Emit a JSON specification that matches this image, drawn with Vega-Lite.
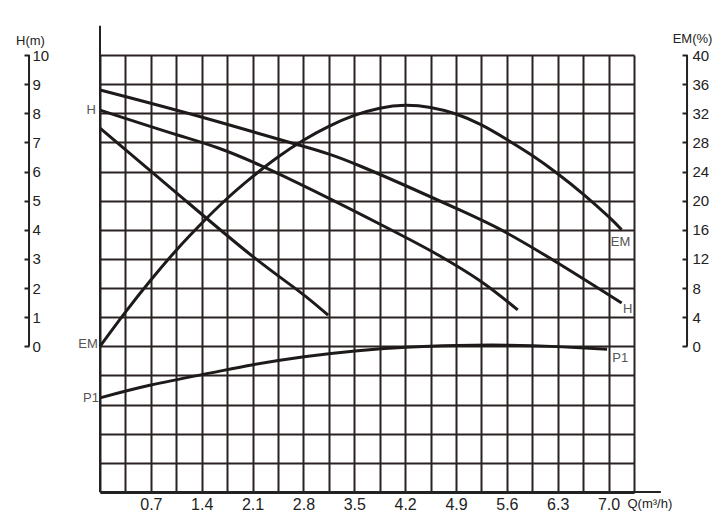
{
  "$schema": "https://vega.github.io/schema/vega-lite/v6.json",
  "width": 534,
  "height": 437,
  "autosize": {"type": "none"},
  "padding": {"left": 100, "top": 55, "right": 90, "bottom": 36},
  "background": "white",
  "config": {"view": {"stroke": null}, "font": "Liberation Sans"},
  "encoding": {
    "x": {
      "field": "q",
      "type": "quantitative",
      "scale": {"domain": [0, 7.35], "nice": false, "zero": false},
      "axis": {
        "values": [0, 0.35, 0.7, 1.05, 1.4, 1.75, 2.1, 2.45, 2.8, 3.15, 3.5, 3.85, 4.2, 4.55, 4.9, 5.25, 5.6, 5.95, 6.3, 6.65, 7.0, 7.35],
        "grid": true,
        "gridColor": "#2a2222",
        "gridWidth": 2,
        "gridOpacity": 1,
        "ticks": false,
        "domain": true,
        "domainColor": "#222222",
        "domainWidth": 3,
        "labelExpr": "indexof(['0.7','1.4','2.1','2.8','3.5','4.2','4.9','5.6','6.3','7.0'], format(datum.value,'.1f')) >= 0 ? format(datum.value,'.1f') : ''",
        "labelFont": "Liberation Sans",
        "labelFontSize": 16,
        "labelColor": "#222222",
        "labelPadding": 4,
        "labelFlush": false,
        "labelOverlap": false,
        "title": "Q(m³/h)",
        "titleFont": "Liberation Sans",
        "titleFontSize": 13,
        "titleFontWeight": "normal",
        "titleColor": "#222222",
        "titleX": 527,
        "titleY": 5,
        "titleAlign": "left",
        "titleBaseline": "top"
      }
    }
  },
  "layer": [
    {
      "data": {"values": [
        {"series": "H1", "q": 0, "h": 8.80},
        {"series": "H1", "q": 1.31, "h": 7.93},
        {"series": "H1", "q": 2.71, "h": 6.93},
        {"series": "H1", "q": 3.58, "h": 6.19},
        {"series": "H1", "q": 4.95, "h": 4.68},
        {"series": "H1", "q": 5.60, "h": 3.89},
        {"series": "H1", "q": 6.29, "h": 2.88},
        {"series": "H1", "q": 7.18, "h": 1.49},
        {"series": "H2", "q": 0, "h": 8.11},
        {"series": "H2", "q": 1.10, "h": 7.23},
        {"series": "H2", "q": 2.20, "h": 6.22},
        {"series": "H2", "q": 3.99, "h": 4.02},
        {"series": "H2", "q": 4.68, "h": 3.10},
        {"series": "H2", "q": 5.23, "h": 2.25},
        {"series": "H2", "q": 5.75, "h": 1.25},
        {"series": "H3", "q": 0, "h": 7.49},
        {"series": "H3", "q": 1.17, "h": 5.02},
        {"series": "H3", "q": 2.11, "h": 3.07},
        {"series": "H3", "q": 2.75, "h": 1.87},
        {"series": "H3", "q": 3.14, "h": 1.07}
      ]},
      "mark": {"type": "line", "color": "#1e1a1a", "strokeWidth": 3, "interpolate": "natural"},
      "encoding": {
        "y": {
          "field": "h", "type": "quantitative",
          "scale": {"domain": [-5, 10], "nice": false, "zero": false},
          "axis": {
            "orient": "left",
            "values": [-5, -4, -3, -2, -1, 0, 1, 2, 3, 4, 5, 6, 7, 8, 9, 10],
            "grid": true, "gridColor": "#2a2222", "gridWidth": 2, "gridOpacity": 1,
            "labels": false, "ticks": false, "domain": false, "title": null
          }
        },
        "detail": {"field": "series"}
      }
    },
    {
      "data": {"values": [
        {"q": 0, "h": -1.77},
        {"q": 0.70, "h": -1.33},
        {"q": 1.51, "h": -0.92},
        {"q": 2.11, "h": -0.63},
        {"q": 2.81, "h": -0.36},
        {"q": 3.51, "h": -0.16},
        {"q": 4.21, "h": -0.03},
        {"q": 4.91, "h": 0.03},
        {"q": 5.60, "h": 0.04},
        {"q": 6.30, "h": -0.01},
        {"q": 6.98, "h": -0.10}
      ]},
      "mark": {"type": "line", "color": "#1e1a1a", "strokeWidth": 3, "interpolate": "natural"},
      "encoding": {
        "y": {"field": "h", "type": "quantitative", "scale": {"domain": [-5, 10], "nice": false, "zero": false}, "axis": null}
      }
    },
    {
      "data": {"values": [
        {"q": 0, "q2": 0, "h": -5, "h2": 11.0},
        {"q": 7.35, "q2": 7.72, "h": -5, "h2": -5},
        {"q": -0.977, "q2": -0.977, "h": 0, "h2": 10},
        {"q": 8.08, "q2": 8.08, "h": 0, "h2": 10}
      ]},
      "mark": {"type": "rule", "color": "#222222", "strokeWidth": 2},
      "encoding": {
        "x2": {"field": "q2"},
        "y": {"field": "h", "type": "quantitative", "scale": {"domain": [-5, 10], "nice": false, "zero": false}, "axis": null},
        "y2": {"field": "h2"}
      }
    },
    {
      "data": {"values": [
        {"q": -0.055, "h": 8.11, "label": "H"},
        {"q": -0.03, "h": 0.08, "label": "EM"},
        {"q": -0.014, "h": -1.77, "label": "P1"}
      ]},
      "mark": {"type": "text", "align": "right", "baseline": "middle", "fontSize": 13, "color": "#555555", "font": "Liberation Sans"},
      "encoding": {
        "text": {"field": "label"},
        "y": {
          "field": "h", "type": "quantitative",
          "scale": {"domain": [-5, 10], "nice": false, "zero": false},
          "axis": {
            "orient": "left", "offset": 71,
            "values": [0, 1, 2, 3, 4, 5, 6, 7, 8, 9, 10],
            "grid": false, "domain": false,
            "ticks": true, "tickSize": 5, "tickWidth": 2, "tickColor": "#222222",
            "labelAlign": "left", "labelPadding": -8, "labelBaseline": "middle",
            "labelFont": "Liberation Sans", "labelFontSize": 15, "labelColor": "#222222",
            "labelOverlap": false, "labelFlush": false,
            "title": "H(m)", "titleAngle": 0, "titleX": 1, "titleY": -15,
            "titleAlign": "center", "titleBaseline": "middle",
            "titleFont": "Liberation Sans", "titleFontSize": 13, "titleFontWeight": "normal", "titleColor": "#222222"
          }
        }
      }
    },
    {
      "data": {"values": [
        {"q": 7.03, "h": 3.58, "label": "EM"},
        {"q": 7.20, "h": 1.28, "label": "H"},
        {"q": 7.05, "h": -0.40, "label": "P1"}
      ]},
      "mark": {"type": "text", "align": "left", "baseline": "middle", "fontSize": 13, "color": "#555555", "font": "Liberation Sans"},
      "encoding": {
        "text": {"field": "label"},
        "y": {"field": "h", "type": "quantitative", "scale": {"domain": [-5, 10], "nice": false, "zero": false}, "axis": null}
      }
    },
    {
      "data": {"values": [
        {"q": 0, "em": 0},
        {"q": 0.35, "em": 4.7},
        {"q": 0.7, "em": 9.1},
        {"q": 1.05, "em": 13.2},
        {"q": 1.4, "em": 16.9},
        {"q": 1.75, "em": 20.3},
        {"q": 2.1, "em": 23.3},
        {"q": 2.45, "em": 26.0},
        {"q": 2.8, "em": 28.3},
        {"q": 3.15, "em": 30.2},
        {"q": 3.5, "em": 31.7},
        {"q": 3.85, "em": 32.7},
        {"q": 4.2, "em": 33.1},
        {"q": 4.55, "em": 32.8},
        {"q": 4.9, "em": 31.9},
        {"q": 5.25, "em": 30.4},
        {"q": 5.6, "em": 28.4},
        {"q": 5.95, "em": 26.2},
        {"q": 6.3, "em": 23.7},
        {"q": 6.65, "em": 20.9},
        {"q": 7.0, "em": 17.8},
        {"q": 7.18, "em": 16.0}
      ]},
      "mark": {"type": "line", "color": "#1e1a1a", "strokeWidth": 3, "interpolate": "natural"},
      "encoding": {
        "y": {
          "field": "em", "type": "quantitative",
          "scale": {"domain": [-20, 40], "nice": false, "zero": false},
          "axis": {
            "orient": "right", "offset": 53,
            "values": [0, 4, 8, 12, 16, 20, 24, 28, 32, 36, 40],
            "grid": false, "domain": false,
            "ticks": true, "tickSize": -5, "tickWidth": 2, "tickColor": "#222222",
            "labelAlign": "left", "labelPadding": 10, "labelBaseline": "middle",
            "labelFont": "Liberation Sans", "labelFontSize": 15, "labelColor": "#222222",
            "labelOverlap": false, "labelFlush": false,
            "title": "EM(%)", "titleAngle": 0, "titleX": 5, "titleY": -17,
            "titleAlign": "center", "titleBaseline": "middle",
            "titleFont": "Liberation Sans", "titleFontSize": 13, "titleFontWeight": "normal", "titleColor": "#222222"
          }
        }
      }
    }
  ],
  "resolve": {"scale": {"y": "independent"}, "axis": {"y": "independent"}}
}
